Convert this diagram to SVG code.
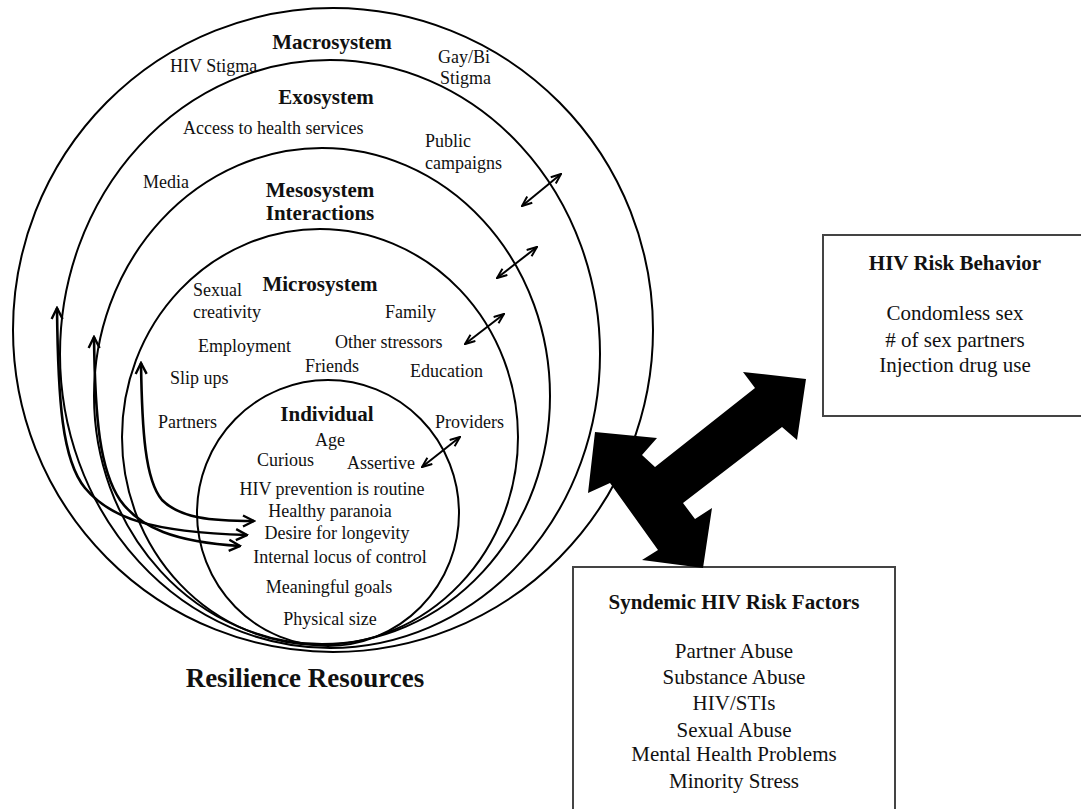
<svg xmlns="http://www.w3.org/2000/svg" width="1081" height="809" viewBox="0 0 1081 809">
<defs>
<style>
text{font-family:"Liberation Serif","Times New Roman",serif;fill:#111}
.l{font-size:18px}
.b{font-size:21px;font-weight:bold}
.bx{font-size:21px}
.m{text-anchor:middle}
.ring{fill:none;stroke:#000;stroke-width:2}
.sa{fill:none;stroke:#000;stroke-width:2;marker-start:url(#hs);marker-end:url(#hs)}
.ra{fill:none;stroke:#000;stroke-width:2.6;marker-start:url(#hr);marker-end:url(#hr)}
.box{fill:#fff;stroke:#444;stroke-width:2}
</style>
<marker id="hs" viewBox="0 0 12 10" refX="11" refY="5" markerWidth="12" markerHeight="10" markerUnits="userSpaceOnUse" orient="auto-start-reverse">
<path d="M1,1 L11,5 L1,9" fill="none" stroke="#000" stroke-width="2"/>
</marker>
<marker id="hr" viewBox="0 0 14 14" refX="12.5" refY="7" markerWidth="14" markerHeight="14" markerUnits="userSpaceOnUse" orient="auto-start-reverse">
<path d="M1.5,1.5 L12.5,7 L1.5,12.5" fill="none" stroke="#000" stroke-width="2.4"/>
</marker>
</defs>
<rect width="1081" height="809" fill="#fff"/>

<g id="macrosystem">
<ellipse class="ring" cx="333" cy="330" rx="320" ry="322"/>
<text class="b m" x="332" y="49">Macrosystem</text>
<text class="l" x="170" y="72">HIV Stigma</text>
<text class="l" x="438" y="63">Gay/Bi</text>
<text class="l" x="440" y="84">Stigma</text>
</g>

<g id="exosystem">
<ellipse class="ring" cx="330" cy="354" rx="270" ry="294"/>
<text class="b m" x="326" y="104">Exosystem</text>
<text class="l" x="183" y="134">Access to health services</text>
<text class="l" x="425" y="147">Public</text>
<text class="l" x="425" y="169">campaigns</text>
<text class="l" x="143" y="188">Media</text>
</g>

<g id="mesosystem">
<ellipse class="ring" cx="322" cy="396" rx="228" ry="248"/>
<text class="b m" x="320" y="197">Mesosystem</text>
<text class="b m" x="320" y="220">Interactions</text>
</g>

<g id="microsystem">
<ellipse class="ring" cx="320" cy="437" rx="198" ry="208"/>
<text class="b m" x="320" y="291">Microsystem</text>
<text class="l" x="193" y="296">Sexual</text>
<text class="l" x="193" y="318">creativity</text>
<text class="l" x="385" y="318">Family</text>
<text class="l" x="198" y="352">Employment</text>
<text class="l" x="335" y="348">Other stressors</text>
<text class="l" x="305" y="372">Friends</text>
<text class="l" x="410" y="377">Education</text>
<text class="l" x="170" y="384">Slip ups</text>
<text class="l" x="158" y="428">Partners</text>
<text class="l" x="435" y="428">Providers</text>
</g>

<g id="individual">
<ellipse class="ring" cx="328" cy="513" rx="131" ry="133"/>
<text class="b m" x="327" y="421">Individual</text>
<text class="l m" x="330" y="446">Age</text>
<text class="l" x="257" y="466">Curious</text>
<text class="l" x="347" y="469">Assertive</text>
<text class="l m" x="332" y="495">HIV prevention is routine</text>
<text class="l m" x="330" y="517">Healthy paranoia</text>
<text class="l m" x="337" y="539">Desire for longevity</text>
<text class="l m" x="340" y="563">Internal locus of control</text>
<text class="l m" x="329" y="593">Meaningful goals</text>
<text class="l m" x="330" y="625">Physical size</text>
</g>

<g id="resilience-label">
<text class="m" x="305" y="687" style="font-size:27px;font-weight:bold">Resilience Resources</text>
</g>

<g id="hiv-risk-behavior">
<rect class="box" x="823" y="235" width="270" height="181"/>
<text class="b m" x="955" y="270">HIV Risk Behavior</text>
<text class="bx m" x="955" y="320">Condomless sex</text>
<text class="bx m" x="955" y="347">&#35; of sex partners</text>
<text class="bx m" x="955" y="372">Injection drug use</text>
</g>

<g id="syndemic-risk-factors">
<rect class="box" x="573" y="567" width="322" height="260"/>
<text class="b m" x="734" y="609">Syndemic HIV Risk Factors</text>
<text class="bx m" x="734" y="658">Partner Abuse</text>
<text class="bx m" x="734" y="684">Substance Abuse</text>
<text class="bx m" x="734" y="710">HIV/STIs</text>
<text class="bx m" x="734" y="737">Sexual Abuse</text>
<text class="bx m" x="734" y="761">Mental Health Problems</text>
<text class="bx m" x="734" y="788">Minority Stress</text>
</g>

<g id="connectors">
<path class="sa" d="M522,206 L561,174"/>
<path class="sa" d="M497,278 L537,247"/>
<path class="sa" d="M465,344 L504,314"/>
<path class="sa" d="M422,467 L460,437"/>
<path class="ra" d="M57,308 C58,400 62,460 85,488 C110,518 150,532 247,535"/>
<path class="ra" d="M94,337 C95,420 100,470 120,500 C140,528 175,542 240,546"/>
<path class="ra" d="M141,363 C142,430 145,480 162,500 C180,518 210,521 254,521"/>
<path d="M595,432 L657,438 L642,455 L655,467 L755,388 L743,372 L806,379 L797,440 L782,427 L683,503 L695,519 L712,508 L703,568 L642,560 L658,550 L610,483 L588,493 Z" fill="#000"/>
</g>
</svg>
